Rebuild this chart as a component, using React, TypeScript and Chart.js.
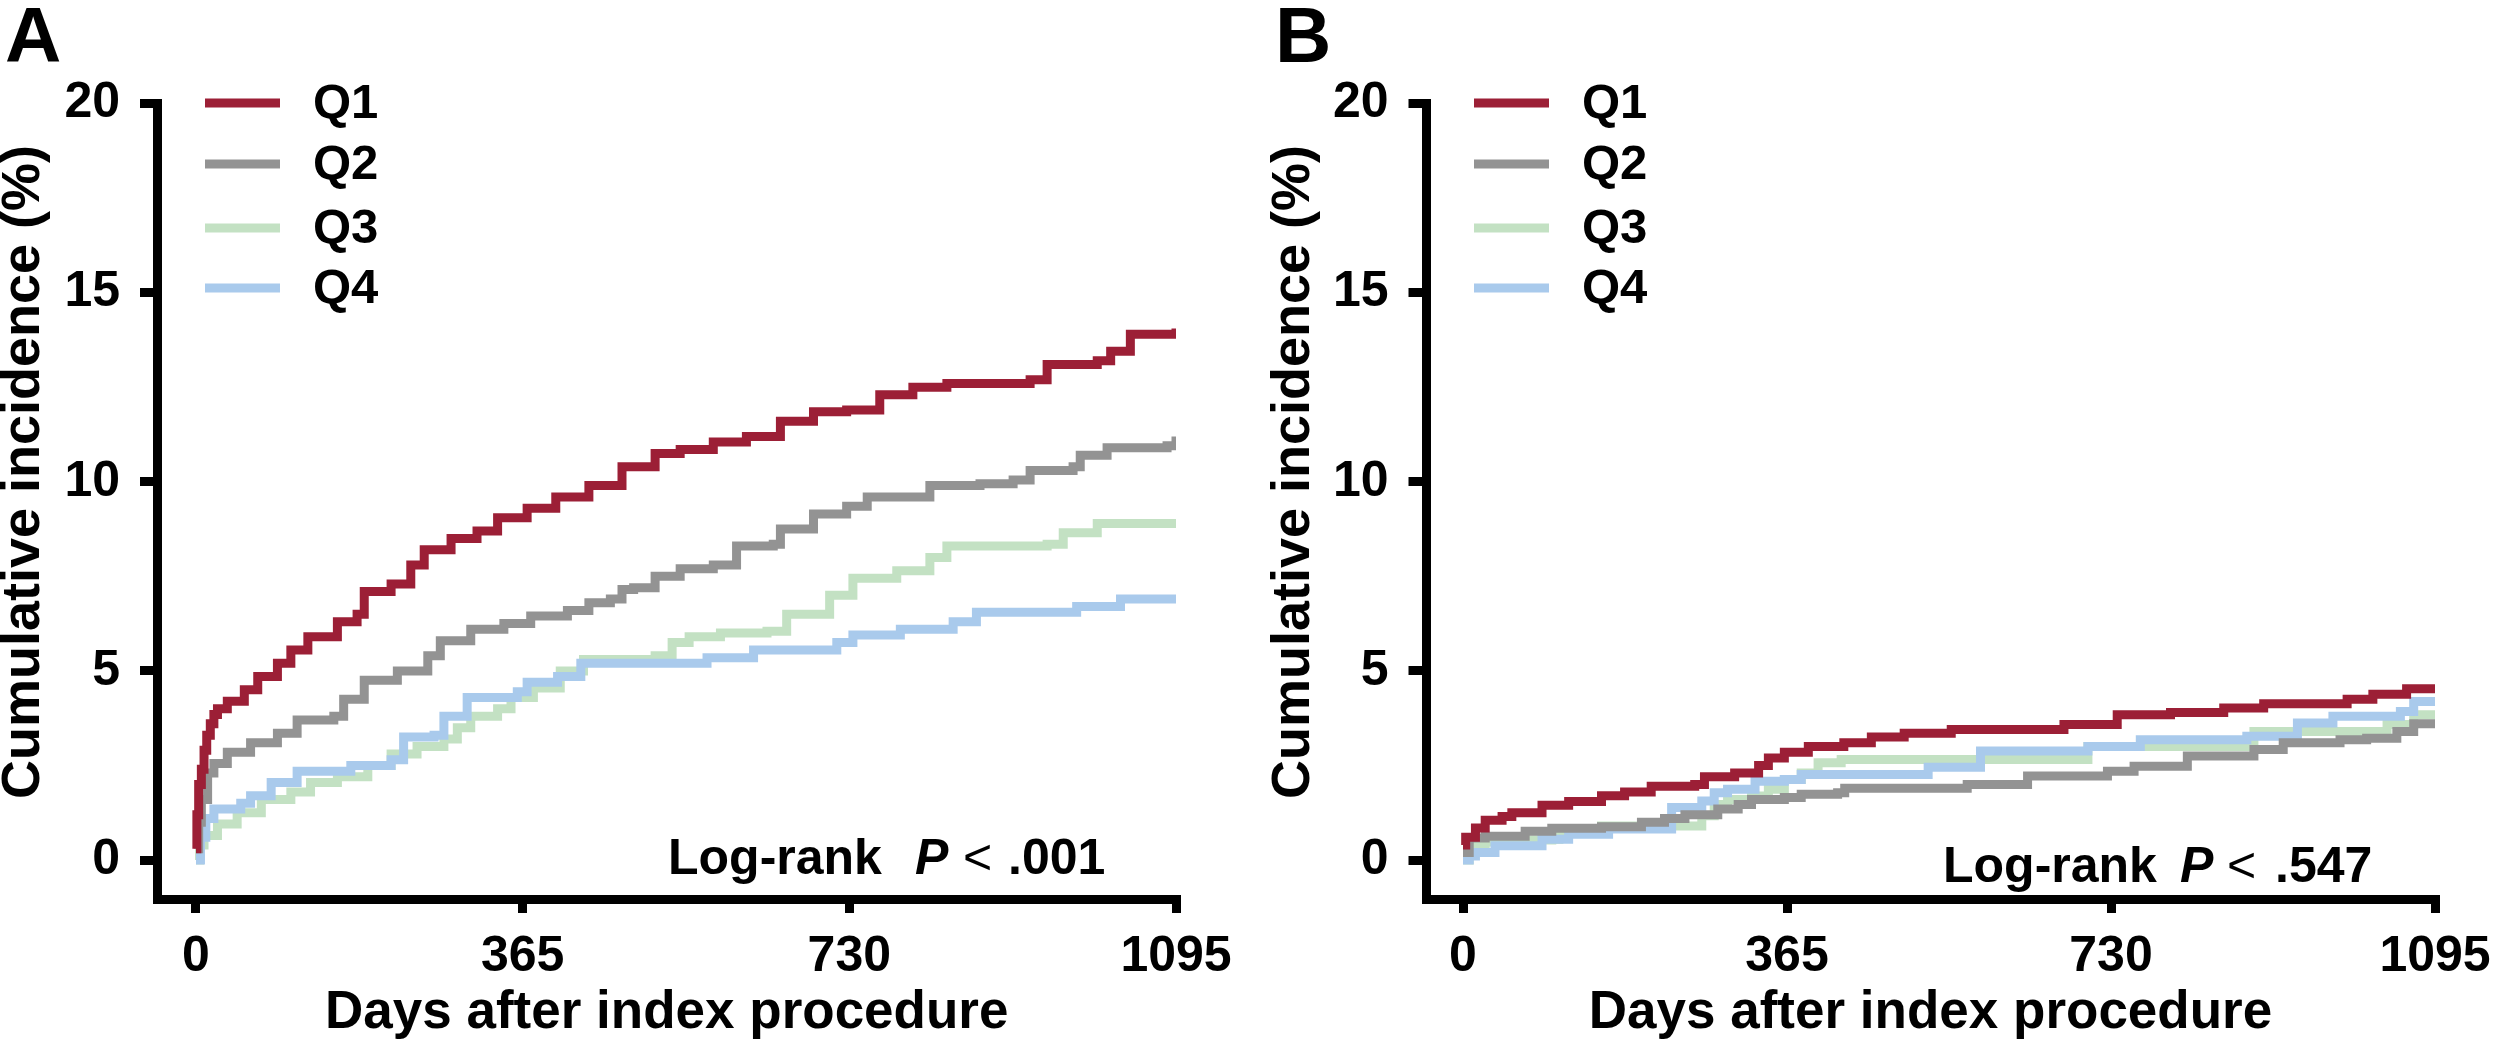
import React, { useEffect, useRef } from "react";
import { Chart, registerables } from "chart.js";

Chart.register(...registerables);

const FONT = '"Liberation Sans", Arial, Helvetica, sans-serif';

// ---------- data ----------
const seriesLabels = ["Q1", "Q2", "Q3", "Q4"];
const seriesColors = ["#9c1f36", "#939393", "#c3e1c3", "#a9caec"];
const xTickValues = [0, 365, 730, 1095];
const yTickValues = [0, 5, 10, 15, 20];
const xTitle = "Days after index procedure";
const yTitle = "Cumulative incidence (%)";

// Panel A
const aQ1Days = [0, 1, 3, 6, 9, 12, 16, 20, 24, 35, 54, 69, 91, 106, 125, 158, 180, 188, 218, 240, 255, 285, 314, 337, 370, 402, 439, 476, 513, 541, 578, 615, 653, 690, 727, 764, 801, 839, 932, 951, 1007, 1022, 1044, 1095];
const aQ1Vals = [0.3, 1.2, 2.0, 2.4, 2.9, 3.3, 3.6, 3.85, 4.0, 4.2, 4.5, 4.85, 5.2, 5.55, 5.9, 6.3, 6.5, 7.1, 7.3, 7.8, 8.2, 8.5, 8.7, 9.05, 9.3, 9.6, 9.9, 10.4, 10.75, 10.85, 11.05, 11.2, 11.6, 11.85, 11.9, 12.3, 12.5, 12.6, 12.7, 13.1, 13.2, 13.45, 13.9, 14.05];
const aQ2Days = [0, 3, 6, 13, 20, 35, 61, 91, 113, 154, 165, 188, 225, 259, 273, 307, 344, 374, 415, 439, 463, 476, 489, 513, 541, 578, 604, 645, 653, 690, 727, 750, 820, 876, 913, 932, 980, 988, 1018, 1085, 1095];
const aQ2Vals = [0.3, 1.0, 1.6, 2.3, 2.55, 2.85, 3.1, 3.35, 3.7, 3.8, 4.25, 4.75, 5.0, 5.4, 5.8, 6.1, 6.25, 6.45, 6.6, 6.8, 6.9, 7.15, 7.2, 7.5, 7.7, 7.8, 8.3, 8.35, 8.75, 9.15, 9.35, 9.6, 9.9, 9.95, 10.05, 10.3, 10.4, 10.7, 10.9, 10.95, 11.2];
const aQ3Days = [0, 4, 9, 24, 46, 73, 106, 128, 158, 192, 218, 247, 277, 292, 307, 337, 352, 377, 407, 433, 513, 532, 551, 586, 638, 660, 708, 734, 783, 820, 839, 951, 969, 1007, 1095];
const aQ3Vals = [0, 0.4, 0.65, 0.95, 1.25, 1.6, 1.8, 2.05, 2.2, 2.5, 2.8, 3.0, 3.2, 3.5, 3.8, 4.0, 4.3, 4.55, 5.0, 5.3, 5.4, 5.75, 5.9, 6.0, 6.05, 6.5, 7.0, 7.45, 7.65, 8.0, 8.3, 8.35, 8.65, 8.9, 8.9];
const aQ4Days = [0, 5, 11, 20, 50, 61, 84, 113, 173, 218, 232, 266, 277, 303, 359, 370, 404, 430, 571, 623, 716, 734, 787, 846, 872, 984, 1033, 1095];
const aQ4Vals = [0, 0.6, 1.1, 1.35, 1.5, 1.7, 2.05, 2.35, 2.5, 2.65, 3.25, 3.3, 3.8, 4.3, 4.45, 4.7, 4.85, 5.2, 5.35, 5.55, 5.75, 5.95, 6.1, 6.3, 6.55, 6.7, 6.9, 6.9];

// Panel B
const bQ1Days = [0, 3, 14, 25, 44, 55, 89, 119, 156, 182, 212, 261, 272, 306, 333, 344, 362, 389, 429, 460, 497, 550, 677, 737, 797, 857, 902, 996, 1025, 1063, 1095];
const bQ1Vals = [0.4, 0.6, 0.85, 1.05, 1.15, 1.25, 1.45, 1.55, 1.7, 1.8, 1.95, 2.0, 2.2, 2.3, 2.5, 2.7, 2.85, 3.0, 3.1, 3.25, 3.35, 3.45, 3.58, 3.84, 3.9, 4.02, 4.13, 4.25, 4.38, 4.53, 4.55];
const bQ2Days = [0, 7, 25, 70, 100, 156, 201, 227, 250, 287, 310, 325, 362, 381, 422, 430, 568, 636, 726, 756, 816, 891, 924, 988, 1018, 1052, 1071, 1095];
const bQ2Vals = [0.2, 0.58, 0.63, 0.76, 0.84, 0.88, 1.0, 1.1, 1.2, 1.35, 1.47, 1.6, 1.65, 1.74, 1.78, 1.9, 2.0, 2.22, 2.35, 2.48, 2.75, 2.92, 3.1, 3.18, 3.22, 3.4, 3.6, 3.62];
const bQ3Days = [0, 7, 25, 44, 100, 108, 156, 260, 269, 283, 298, 325, 344, 362, 381, 400, 426, 704, 891, 1041, 1071, 1095];
const bQ3Vals = [0, 0.42, 0.48, 0.53, 0.55, 0.73, 0.9, 0.9, 1.17, 1.47, 1.6, 1.69, 1.87, 2.13, 2.3, 2.57, 2.66, 3.0, 3.4, 3.58, 3.84, 3.85];
const bQ4Days = [0, 7, 14, 36, 89, 119, 164, 235, 269, 283, 298, 329, 362, 381, 520, 524, 583, 704, 763, 883, 940, 980, 1056, 1071, 1095];
const bQ4Vals = [0, 0.11, 0.2, 0.38, 0.55, 0.68, 0.82, 1.39, 1.56, 1.78, 1.87, 2.08, 2.13, 2.26, 2.26, 2.45, 2.88, 3.0, 3.18, 3.27, 3.62, 3.8, 3.93, 4.19, 4.19];

const panelASeries = [
  [aQ1Days, aQ1Vals],
  [aQ2Days, aQ2Vals],
  [aQ3Days, aQ3Vals],
  [aQ4Days, aQ4Vals],
];
const panelBSeries = [
  [bQ1Days, bQ1Vals],
  [bQ2Days, bQ2Vals],
  [bQ3Days, bQ3Vals],
  [bQ4Days, bQ4Vals],
];

// draw order: Q1 on top, then Q2, Q4, Q3
const drawOrder = [0, 1, 3, 2];

type Panel = {
  letter: string;
  letterX: number;
  yTitleX: number;
  axisLeft: number;
  xMin: number;
  padRight: number;
  legendX: number;
  pText: string;
  logX: number[];
  logY: number;
};

const panelA: Panel = {
  letter: "A",
  letterX: 5,
  yTitleX: 24,
  axisLeft: 157.5,
  xMin: -43,
  padRight: 78,
  legendX: 205,
  pText: ".001",
  logX: [668, 915, 963, 1008],
  logY: 874,
};

const panelB: Panel = {
  letter: "B",
  letterX: 21,
  yTitleX: 40,
  axisLeft: 172,
  xMin: -41.7,
  padRight: 73,
  legendX: 220,
  pText: ".547",
  logX: [689, 926, 973, 1021],
  logY: 882,
};

const legendRows = [103, 164, 228, 288];

function buildChart(canvas: HTMLCanvasElement, p: Panel, series: number[][][]) {
  const annot = {
    id: "annot" + p.letter,
    afterDraw(chart: any) {
      const ctx = chart.ctx as CanvasRenderingContext2D;
      ctx.save();
      ctx.fillStyle = "#000";
      // panel letter
      ctx.font = `bold 78px ${FONT}`;
      ctx.textAlign = "left";
      ctx.textBaseline = "alphabetic";
      ctx.fillText(p.letter, p.letterX, 62);
      // y title
      ctx.save();
      ctx.translate(p.yTitleX, 472);
      ctx.rotate(-Math.PI / 2);
      ctx.font = `bold 54px ${FONT}`;
      ctx.textAlign = "center";
      ctx.textBaseline = "middle";
      ctx.fillText(yTitle, 0, 0);
      ctx.restore();
      // legend
      chart.data.datasets.forEach((ds: any, i: number) => {
        const y = legendRows[i];
        ctx.strokeStyle = ds.borderColor;
        ctx.lineWidth = 9;
        ctx.lineCap = "butt";
        ctx.beginPath();
        ctx.moveTo(p.legendX, y);
        ctx.lineTo(p.legendX + 75, y);
        ctx.stroke();
        ctx.fillStyle = "#000";
        ctx.font = `bold 49px ${FONT}`;
        ctx.textAlign = "left";
        ctx.textBaseline = "middle";
        ctx.fillText(ds.label, p.legendX + 108, y + 1);
      });
      // log-rank
      ctx.fillStyle = "#000";
      ctx.textAlign = "left";
      ctx.textBaseline = "alphabetic";
      ctx.font = `bold 50px ${FONT}`;
      ctx.fillText("Log-rank", p.logX[0], p.logY);
      ctx.font = `italic bold 50px ${FONT}`;
      ctx.fillText("P", p.logX[1], p.logY);
      ctx.font = `50px ${FONT}`;
      ctx.fillText("<", p.logX[2], p.logY);
      ctx.font = `bold 50px ${FONT}`;
      ctx.fillText(p.pText, p.logX[3], p.logY);
      ctx.restore();
    },
  };

  const datasets = series.map((s, i) => ({
    label: seriesLabels[i],
    data: s[0].map((d, j) => ({ x: d, y: s[1][j] })),
    borderColor: seriesColors[i],
    backgroundColor: seriesColors[i],
    borderWidth: 9,
    pointRadius: 0,
    stepped: "before" as const,
    fill: false,
    order: drawOrder[i],
    borderCapStyle: "butt" as const,
    borderJoinStyle: "miter" as const,
  }));

  return new Chart(canvas, {
    type: "line",
    data: { datasets },
    options: {
      responsive: false,
      animation: false,
      devicePixelRatio: 1,
      layout: { padding: { top: 103.5, right: p.padRight, left: 0, bottom: 0 } },
      plugins: { legend: { display: false }, tooltip: { enabled: false } },
      scales: {
        x: {
          type: "linear",
          min: p.xMin,
          max: 1095,
          afterBuildTicks: (s: any) => {
            s.ticks = xTickValues.map((v) => ({ value: v }));
          },
          afterFit: (s: any) => {
            s.height = 146;
          },
          grid: { drawOnChartArea: false, drawTicks: true, tickLength: 14, lineWidth: 9, color: "#000" },
          border: { display: true, width: 9, color: "#000" },
          ticks: {
            color: "#000",
            font: { family: FONT, size: 50, weight: "bold", lineHeight: 1.2 },
            padding: 14,
            maxRotation: 0,
            autoSkip: false,
            callback: (v: any) => String(v),
          },
          title: {
            display: true,
            text: xTitle,
            color: "#000",
            font: { family: FONT, size: 53, weight: "bold", lineHeight: 1.2 },
            padding: { top: 0, bottom: 0 },
          },
        },
        y: {
          type: "linear",
          min: -1.03,
          max: 20,
          afterBuildTicks: (s: any) => {
            s.ticks = yTickValues.map((v) => ({ value: v }));
          },
          afterFit: (s: any) => {
            s.width = p.axisLeft;
          },
          grid: { drawOnChartArea: false, drawTicks: true, tickLength: 17.5, lineWidth: 9, color: "#000" },
          border: { display: true, width: 9, color: "#000" },
          ticks: {
            color: "#000",
            font: { family: FONT, size: 50, weight: "bold" },
            padding: 20,
            callback: (v: any) => String(v),
          },
        },
      },
    },
    plugins: [annot],
  } as any);
}

export default function App() {
  const refA = useRef<HTMLCanvasElement>(null);
  const refB = useRef<HTMLCanvasElement>(null);

  useEffect(() => {
    const cA = buildChart(refA.current!, panelA, panelASeries);
    const cB = buildChart(refB.current!, panelB, panelBSeries);
    return () => {
      cA.destroy();
      cB.destroy();
    };
  }, []);

  return (
    <div style={{ position: "absolute", left: 0, top: 0, width: 2508, height: 1045, background: "#fff" }}>
      <canvas ref={refA} width={1254} height={1045} style={{ position: "absolute", left: 0, top: 0, width: 1254, height: 1045 }} />
      <canvas ref={refB} width={1254} height={1045} style={{ position: "absolute", left: 1254, top: 0, width: 1254, height: 1045 }} />
    </div>
  );
}
